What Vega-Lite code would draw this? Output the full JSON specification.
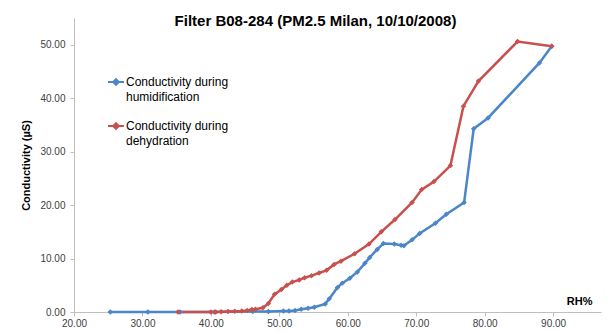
{
  "$schema": "https://vega.github.io/schema/vega-lite/v6.json",
  "width": 527,
  "height": 294,
  "autosize": {"type": "none"},
  "padding": {"left": 74, "top": 18, "right": 6, "bottom": 20},
  "background": "white",
  "title": {
    "text": "Filter B08-284 (PM2.5 Milan, 10/10/2008)",
    "font": "Liberation Sans",
    "fontSize": 15,
    "fontWeight": "bold",
    "color": "#000000",
    "anchor": "middle",
    "frame": "group",
    "baseline": "alphabetic",
    "offset": -4,
    "dx": -22,
    "dy": 19
  },
  "config": {
    "view": {"stroke": null},
    "font": "Liberation Sans"
  },
  "data": {
    "values": [
      {"series": "Conductivity during humidification", "rh": 25.3, "c": 0},
      {"series": "Conductivity during humidification", "rh": 30.8, "c": 0},
      {"series": "Conductivity during humidification", "rh": 35.5, "c": 0},
      {"series": "Conductivity during humidification", "rh": 40.5, "c": 0},
      {"series": "Conductivity during humidification", "rh": 46.1, "c": 0.1},
      {"series": "Conductivity during humidification", "rh": 48.4, "c": 0.1},
      {"series": "Conductivity during humidification", "rh": 50.6, "c": 0.2},
      {"series": "Conductivity during humidification", "rh": 51.4, "c": 0.2},
      {"series": "Conductivity during humidification", "rh": 52.3, "c": 0.3},
      {"series": "Conductivity during humidification", "rh": 53.2, "c": 0.5},
      {"series": "Conductivity during humidification", "rh": 54.2, "c": 0.7},
      {"series": "Conductivity during humidification", "rh": 55.1, "c": 0.9},
      {"series": "Conductivity during humidification", "rh": 56.7, "c": 1.5},
      {"series": "Conductivity during humidification", "rh": 57.3, "c": 2.5},
      {"series": "Conductivity during humidification", "rh": 58.5, "c": 4.6},
      {"series": "Conductivity during humidification", "rh": 59.2, "c": 5.4},
      {"series": "Conductivity during humidification", "rh": 60.3, "c": 6.3},
      {"series": "Conductivity during humidification", "rh": 61.4, "c": 7.5},
      {"series": "Conductivity during humidification", "rh": 62.5, "c": 9.1},
      {"series": "Conductivity during humidification", "rh": 63.2, "c": 10.2},
      {"series": "Conductivity during humidification", "rh": 64.3, "c": 11.7},
      {"series": "Conductivity during humidification", "rh": 65.2, "c": 12.8},
      {"series": "Conductivity during humidification", "rh": 66.8, "c": 12.7},
      {"series": "Conductivity during humidification", "rh": 67.8, "c": 12.5},
      {"series": "Conductivity during humidification", "rh": 68.2, "c": 12.4},
      {"series": "Conductivity during humidification", "rh": 69.4, "c": 13.5},
      {"series": "Conductivity during humidification", "rh": 70.5, "c": 14.7},
      {"series": "Conductivity during humidification", "rh": 72.8, "c": 16.6},
      {"series": "Conductivity during humidification", "rh": 74.4, "c": 18.3},
      {"series": "Conductivity during humidification", "rh": 77.0, "c": 20.5},
      {"series": "Conductivity during humidification", "rh": 78.4, "c": 34.3},
      {"series": "Conductivity during humidification", "rh": 80.5, "c": 36.3},
      {"series": "Conductivity during humidification", "rh": 88.0, "c": 46.6},
      {"series": "Conductivity during humidification", "rh": 89.8, "c": 49.7},
      {"series": "Conductivity during dehydration", "rh": 35.2, "c": 0},
      {"series": "Conductivity during dehydration", "rh": 40.0, "c": 0},
      {"series": "Conductivity during dehydration", "rh": 40.7, "c": 0},
      {"series": "Conductivity during dehydration", "rh": 41.5, "c": 0.05},
      {"series": "Conductivity during dehydration", "rh": 42.5, "c": 0.1},
      {"series": "Conductivity during dehydration", "rh": 43.5, "c": 0.15},
      {"series": "Conductivity during dehydration", "rh": 44.5, "c": 0.2},
      {"series": "Conductivity during dehydration", "rh": 45.3, "c": 0.3},
      {"series": "Conductivity during dehydration", "rh": 46.0, "c": 0.45},
      {"series": "Conductivity during dehydration", "rh": 46.5, "c": 0.5},
      {"series": "Conductivity during dehydration", "rh": 47.6, "c": 0.8},
      {"series": "Conductivity during dehydration", "rh": 48.4, "c": 1.6},
      {"series": "Conductivity during dehydration", "rh": 49.3, "c": 3.3},
      {"series": "Conductivity during dehydration", "rh": 50.3, "c": 4.2},
      {"series": "Conductivity during dehydration", "rh": 51.1, "c": 5.0},
      {"series": "Conductivity during dehydration", "rh": 51.9, "c": 5.6},
      {"series": "Conductivity during dehydration", "rh": 52.9, "c": 6.0},
      {"series": "Conductivity during dehydration", "rh": 53.7, "c": 6.4},
      {"series": "Conductivity during dehydration", "rh": 54.7, "c": 6.8},
      {"series": "Conductivity during dehydration", "rh": 55.8, "c": 7.3},
      {"series": "Conductivity during dehydration", "rh": 56.9, "c": 7.8},
      {"series": "Conductivity during dehydration", "rh": 58.0, "c": 8.9},
      {"series": "Conductivity during dehydration", "rh": 59.0, "c": 9.5},
      {"series": "Conductivity during dehydration", "rh": 61.0, "c": 10.9},
      {"series": "Conductivity during dehydration", "rh": 63.1, "c": 12.7},
      {"series": "Conductivity during dehydration", "rh": 64.9, "c": 15.0},
      {"series": "Conductivity during dehydration", "rh": 66.9, "c": 17.3},
      {"series": "Conductivity during dehydration", "rh": 69.4, "c": 20.5},
      {"series": "Conductivity during dehydration", "rh": 70.8, "c": 22.9},
      {"series": "Conductivity during dehydration", "rh": 72.6, "c": 24.4},
      {"series": "Conductivity during dehydration", "rh": 75.0, "c": 27.4},
      {"series": "Conductivity during dehydration", "rh": 76.9, "c": 38.5},
      {"series": "Conductivity during dehydration", "rh": 79.1, "c": 43.2},
      {"series": "Conductivity during dehydration", "rh": 84.8, "c": 50.6},
      {"series": "Conductivity during dehydration", "rh": 89.8, "c": 49.7}
    ]
  },
  "mark": {
    "type": "line",
    "strokeWidth": 2.5,
    "point": {"filled": true, "shape": "diamond", "size": 30}
  },
  "encoding": {
    "x": {
      "field": "rh",
      "type": "quantitative",
      "scale": {"domain": [20, 97], "nice": false, "zero": false},
      "axis": {
        "values": [20, 30, 40, 50, 60, 70, 80, 90],
        "format": ".2f",
        "grid": false,
        "domainColor": "#bfbfbf",
        "tickColor": "#bfbfbf",
        "tickSize": 4,
        "labelPadding": 2,
        "labelFont": "Liberation Sans",
        "labelFontSize": 10,
        "labelColor": "#404040",
        "labelFlush": false,
        "labelOverlap": false,
        "title": "RH%",
        "titleFont": "Liberation Sans",
        "titleFontSize": 11,
        "titleFontWeight": "bold",
        "titleColor": "#000000",
        "titleX": 518,
        "titleY": -8,
        "titleAlign": "right",
        "titleBaseline": "alphabetic"
      }
    },
    "y": {
      "field": "c",
      "type": "quantitative",
      "scale": {"domain": [0, 55], "nice": false},
      "axis": {
        "values": [0, 10, 20, 30, 40, 50],
        "format": ".2f",
        "grid": false,
        "domainColor": "#bfbfbf",
        "tickColor": "#bfbfbf",
        "tickSize": 4,
        "labelPadding": 5,
        "labelFont": "Liberation Sans",
        "labelFontSize": 10,
        "labelColor": "#404040",
        "labelFlush": false,
        "title": "Conductivity (µS)",
        "titleFont": "Liberation Sans",
        "titleFontSize": 11,
        "titleFontWeight": "bold",
        "titleColor": "#000000",
        "titleX": -43,
        "titleY": 147,
        "titleAlign": "center"
      }
    },
    "color": {
      "field": "series",
      "type": "nominal",
      "scale": {
        "domain": ["Conductivity during humidification", "Conductivity during dehydration"],
        "range": ["#4a86c8", "#c8504d"]
      },
      "legend": {
        "title": null,
        "orient": "none",
        "legendX": 33,
        "legendY": 55,
        "rowPadding": 14,
        "symbolType": "M-1,0L1,0M0,-0.35L0.35,0L0,0.35L-0.35,0Z",
        "symbolSize": 256,
        "symbolStrokeWidth": 2,
        "labelFont": "Liberation Sans",
        "labelFontSize": 12,
        "labelColor": "#000000",
        "labelLimit": 300,
        "labelOffset": 1,
        "labelBaseline": "middle",
        "labelExpr": "datum.label == 'Conductivity during humidification' ? ['Conductivity during', 'humidification'] : ['Conductivity during', 'dehydration']",
        "encode": {"labels": {"update": {"lineHeight": {"value": 15}}}}
      }
    }
  }
}
